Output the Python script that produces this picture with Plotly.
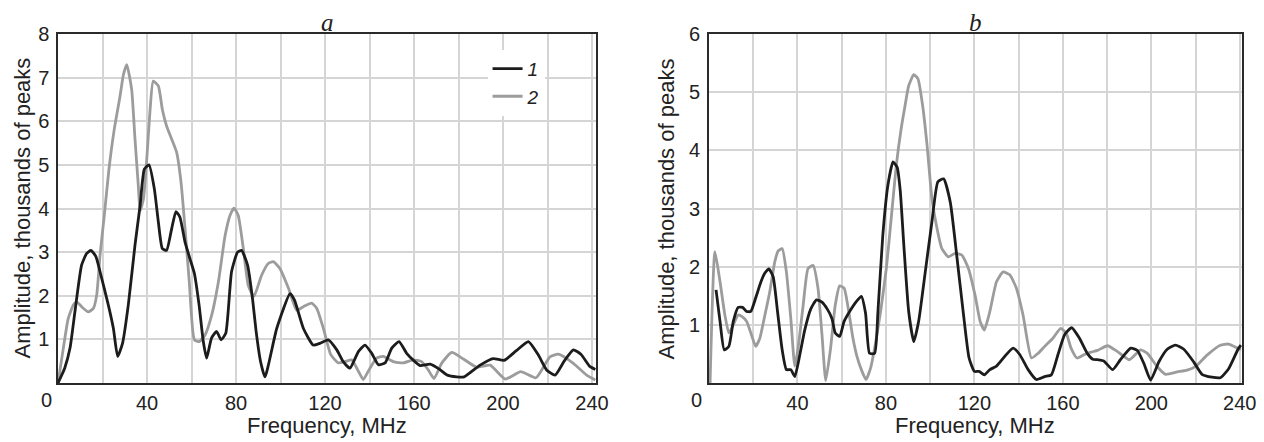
import plotly.graph_objects as go

# ---------- Panel a ----------
a1_freq = [0, 3, 5.4, 7.6, 10.6, 12.9, 14.8, 17, 18.9, 22.6, 24.9, 26.8, 29, 31.6, 34.6, 36.9, 38.8, 40.9,
           43.3, 45.1, 46.9, 48.8, 51.1, 53, 54.8, 57.1, 59.3, 61.3, 63.4, 65.3, 66.8, 69, 71.3, 73.3, 75.4,
           78, 80.7, 82.5, 85.2, 87.5, 89, 91, 93, 98.3, 104.3, 106.3, 110.3, 114.7, 117.7, 121.5, 125.3,
           128.2, 131.2, 135, 138, 141, 144, 147, 150, 153.3, 156.7, 160.4, 162.7, 167.2, 171, 175, 179.2,
           182.5, 189.7, 195.6, 200.5, 206, 211.4, 215.9, 219.6, 223.4, 227.5, 231.6, 235, 239, 241.5]
a1_amp = [0, 0.34, 0.8, 1.63, 2.7, 2.97, 3.04, 2.9, 2.55, 1.79, 1.25, 0.61, 0.91, 1.79, 3.16, 4.07, 4.9, 5.0,
          4.45, 3.69, 3.08, 3.04, 3.54, 3.93, 3.8, 3.23, 2.85, 2.51, 1.79, 0.95, 0.57, 1.03, 1.18, 0.99, 1.14,
          2.55, 3.0, 3.04, 2.7, 1.9, 1.2, 0.5, 0.14, 1.25, 2.05, 1.9, 1.25, 0.87, 0.91, 0.99, 0.76,
          0.49, 0.34, 0.72, 0.87, 0.68, 0.42, 0.46, 0.8, 0.95, 0.68, 0.49, 0.4, 0.43, 0.33, 0.18, 0.14,
          0.14, 0.41, 0.56, 0.52, 0.74, 0.95, 0.64, 0.3, 0.18, 0.5, 0.76, 0.66, 0.38, 0.31]

a2_freq = [0, 2.4, 4.6, 6.9, 8.4, 10.6, 13.6, 15.9, 17.4, 18.9, 20.8, 22.9, 25.3, 27.9, 29.4, 30.9, 33.1,
           34.6, 36.1, 36.9, 38.4, 39.8, 41.3, 42.8, 45.1, 46.9, 48.8, 51.1, 53.3, 55.3, 57.1, 59, 61.3,
           63.5, 66.1, 69.1, 72.1, 75.1, 77.3, 79.1, 81, 83.3, 85.5, 88, 91.5, 94.5, 96.8, 99.8, 103.6,
           107.3, 110.3, 114, 116.3, 119.3, 122.6, 126, 129, 132, 135, 137.2, 140.2, 143.2, 146.2, 150.7,
           155.2, 159.7, 163.4, 166.4, 169, 172.4, 176.9, 182.2, 188.2, 194.2, 201, 208, 214.8, 221.1,
           224.9, 231.6, 237.6, 241.5]
a2_amp = [0, 0.8, 1.48, 1.79, 1.86, 1.75, 1.63, 1.71, 2.02, 2.93, 3.84, 4.9, 5.82, 6.58, 7.07, 7.3, 6.73,
          5.59, 4.52, 3.95, 4.22, 5.06, 6.2, 6.92, 6.81, 6.27, 5.89, 5.59, 5.29, 4.6, 3.54, 2.32, 0.99,
          0.95, 1.1, 1.56, 2.32, 3.38, 3.84, 4.01, 3.84, 3.08, 2.24, 1.98, 2.47, 2.74, 2.78, 2.62, 2.17,
          1.67, 1.75, 1.83, 1.71, 1.25, 0.65, 0.46, 0.49, 0.53, 0.27, 0.08, 0.34, 0.57, 0.61, 0.49,
          0.46, 0.53, 0.49, 0.3, 0.1, 0.45, 0.7, 0.55, 0.36, 0.41, 0.09, 0.26, 0.12, 0.6,
          0.66, 0.45, 0.18, 0.07]

# ---------- Panel b ----------
b1_freq = [3.2, 5, 6.9, 9, 11, 13.2, 15.2, 17, 18.9, 21.1, 23.5, 25.3, 27.1, 29, 31, 33.1, 35, 37, 38.8,
           41.1, 43.3, 46, 48.6, 51.1, 53.5, 55.6, 57.1, 59.1, 61.1, 63.6, 66.6, 68.9, 70.8, 72.6, 74.9,
           76.4, 78.6, 80.9, 83.2, 85.1, 86.5, 88.1, 90.3, 92.6, 94.8, 97.8, 100.8, 103.5, 106.1, 109.1,
           112, 115.1, 117.6, 120, 122.1, 124.5, 127, 130, 133.8, 137.5, 140.5, 144.3, 148, 151.8, 154.8,
           157.8, 160.8, 164, 167.5, 171.2, 173.5, 175.7, 178.5, 182.5, 186, 190.7, 193.7, 196.7, 199.7,
           203.5, 207.2, 210.9, 214.7, 219.2, 222.9, 227.4, 231.2, 234.9, 239.2, 240.5]
b1_amp = [1.6, 1.06, 0.57, 0.63, 1.06, 1.3, 1.3, 1.23, 1.23, 1.46, 1.74, 1.89, 1.96, 1.83, 1.23, 0.57, 0.23,
          0.23, 0.11, 0.49, 0.91, 1.27, 1.43, 1.39, 1.27, 1.11, 0.86, 0.8, 1.06, 1.23, 1.4, 1.49, 1.2,
          0.51, 0.51, 1.23, 2.54, 3.4, 3.8, 3.71, 3.3, 2.37, 1.23, 0.71, 1.06, 1.91, 2.77, 3.46, 3.51,
          3.11, 2.2, 1.17, 0.43, 0.2, 0.2, 0.14, 0.23, 0.29, 0.46, 0.6, 0.49, 0.23, 0.06, 0.11, 0.14,
          0.49, 0.83, 0.95, 0.77, 0.5, 0.41, 0.4, 0.38, 0.23, 0.4, 0.6, 0.56, 0.33, 0.05,
          0.37, 0.58, 0.65, 0.58, 0.36, 0.15, 0.1, 0.09, 0.24, 0.58, 0.65]

b2_freq = [0.5, 2.7, 5, 7.2, 9, 11, 13.2, 15, 17, 19.2, 21.1, 23, 25.3, 27.5, 29.8, 31.3, 33.1, 35, 37,
           38.8, 40.3, 42.6, 44.8, 47.1, 49.3, 51.1, 52.8, 55, 57.1, 59.1, 61.1, 63.2, 65.1, 67.1, 69.2,
           71, 73.1, 75.2, 77.6, 80.2, 82.4, 84.7, 86.9, 88.4, 90.3, 92.6, 94.5, 96.6, 98.6, 100.8,
           103.1, 105.3, 108.3, 111.3, 114.3, 117.3, 120.3, 122.6, 124.5, 127, 130, 133, 136, 139, 142,
           145.8, 148.8, 151.8, 155.5, 159, 161.5, 163.7, 166.4, 169.8, 172.7, 175.7, 180.2, 184.7, 190,
           195.2, 198.2, 202.7, 206.4, 211.7, 216.2, 219.9, 225.2, 231.2, 234.9, 239, 240.5]
b2_amp = [0, 2.26, 1.74, 1.17, 0.86, 1.0, 1.17, 1.14, 1.06, 0.83, 0.63, 0.77, 1.17, 1.57, 2.09, 2.27, 2.31,
          1.91, 1.11, 0.29, 0.6, 1.34, 1.97, 2.02, 1.63, 0.83, 0.04, 0.6, 1.34, 1.67, 1.63, 1.23, 0.77,
          0.43, 0.2, 0.06, 0.26, 0.66, 1.23, 1.97, 2.83, 3.74, 4.37, 4.71, 5.11, 5.3, 5.23, 4.77, 4.09,
          3.17, 2.66, 2.31, 2.17, 2.23, 2.2, 1.97, 1.51, 1.06, 0.91, 1.23, 1.74, 1.91, 1.86, 1.63, 1.17,
          0.43, 0.51, 0.63, 0.77, 0.94, 0.86, 0.6, 0.43, 0.49, 0.53, 0.56, 0.64, 0.54, 0.4,
          0.57, 0.51, 0.28, 0.15, 0.19, 0.22, 0.28, 0.48, 0.65, 0.67, 0.6, 0.57]

x_major = [40, 80, 120, 160, 200, 240]
x_minor = [20, 60, 100, 140, 180, 220]
ya_ticks = [1, 2, 3, 4, 5, 6, 7, 8]
yb_ticks = [1, 2, 3, 4, 5, 6]
series_names = ["<i>1</i>", "<i>2</i>"]
panel_titles = ["a", "b"]
x_title = "Frequency, MHz"
y_title = "Amplitude, thousands of peaks"

BLACK = "#1c1c1c"
GRAY = "#9c9c9c"
GRID = "#d5d5d5"
TXT = "#222222"
FONT = "Liberation Sans, Arial, sans-serif"

line_kw = dict(shape="spline", smoothing=0.5, width=2.8)

fig = go.Figure()
fig.add_trace(go.Scatter(x=a2_freq, y=a2_amp, mode="lines", name=series_names[1], legendrank=2,
                         line=dict(color=GRAY, **line_kw), xaxis="x", yaxis="y"))
fig.add_trace(go.Scatter(x=a1_freq, y=a1_amp, mode="lines", name=series_names[0], legendrank=1,
                         line=dict(color=BLACK, **line_kw), xaxis="x", yaxis="y"))
fig.add_trace(go.Scatter(x=b2_freq, y=b2_amp, mode="lines", showlegend=False,
                         line=dict(color=GRAY, **line_kw), xaxis="x2", yaxis="y2"))
fig.add_trace(go.Scatter(x=b1_freq, y=b1_amp, mode="lines", showlegend=False,
                         line=dict(color=BLACK, **line_kw), xaxis="x2", yaxis="y2"))


def xaxis(domain, rng):
    return dict(domain=domain, range=rng, tickmode="array", tickvals=x_major,
                showgrid=True, gridcolor=GRID, gridwidth=1.5,
                minor=dict(tickmode="array", tickvals=x_minor, showgrid=True, gridcolor=GRID, gridwidth=1.5),
                showline=True, mirror=True, linecolor="#2a2a2a", linewidth=1.5,
                ticks="", ticklabelstandoff=1, zeroline=False, automargin=False,
                tickfont=dict(family=FONT, size=20, color=TXT), fixedrange=True)


def yaxis(anchor, rng, ticks):
    return dict(domain=[0, 1], range=rng, anchor=anchor, tickmode="array", tickvals=ticks,
                showgrid=True, gridcolor=GRID, gridwidth=1.5,
                showline=True, mirror=True, linecolor="#2a2a2a", linewidth=1.5,
                ticks="", ticklabelstandoff=3, zeroline=False, automargin=False,
                tickfont=dict(family=FONT, size=20, color=TXT), fixedrange=True)


# page body adds an 8px offset, so the figure is 8px smaller than the window
fig.update_layout(
    width=1256, height=434,
    margin=dict(l=50, r=22, t=26, b=59),
    paper_bgcolor="white", plot_bgcolor="white",
    font=dict(family=FONT, color=TXT),
    xaxis=xaxis([0, 0.4544], [0, 241.8]),
    yaxis=yaxis("x", [0, 8], ya_ticks),
    xaxis2=xaxis([0.5498, 1.0], [0, 241]),
    yaxis2=yaxis("x2", [0, 6], yb_ticks),
    showlegend=True,
    legend=dict(x=0.3628, y=0.955, xanchor="left", yanchor="top", bgcolor="white",
                borderwidth=0, font=dict(family=FONT, size=19, color=TXT), tracegroupgap=0),
)

ann = []
for xr, yr, xmid, t in [("x", "y", 0.2272, panel_titles[0]),
                        ("x2", "y2", 0.7749, panel_titles[1])]:
    ann.append(dict(text="<i>" + t + "</i>", xref="paper", yref="paper", x=xmid, y=1.0, yshift=12,
                    xanchor="center", yanchor="middle", showarrow=False,
                    font=dict(family="Liberation Serif, Times New Roman, serif", size=25, color=TXT)))
    ann.append(dict(text="0", xref=xr, yref=yr, x=0, y=0, xshift=-12, yshift=-17,
                    xanchor="center", yanchor="middle", showarrow=False,
                    font=dict(family=FONT, size=20, color=TXT)))
    ann.append(dict(text=x_title, xref="paper", yref="paper", x=xmid, y=0, yshift=-42,
                    xanchor="center", yanchor="middle", showarrow=False,
                    font=dict(family=FONT, size=22, color=TXT)))
ann.append(dict(text=y_title, xref="paper", yref="paper", x=0, y=0.5, xshift=-36, textangle=-90,
                xanchor="center", yanchor="middle", showarrow=False,
                font=dict(family=FONT, size=22, color=TXT)))
ann.append(dict(text=y_title, xref="paper", yref="paper", x=0.5498, y=0.5, xshift=-42, textangle=-90,
                xanchor="center", yanchor="middle", showarrow=False,
                font=dict(family=FONT, size=22, color=TXT)))
fig.update_layout(annotations=ann)

fig.write_html("out.html")
